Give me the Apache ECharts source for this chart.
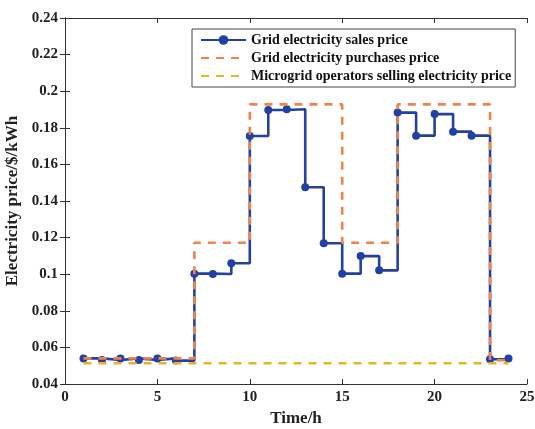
<!DOCTYPE html>
<html>
<head>
<meta charset="utf-8">
<script src="https://cdn.jsdelivr.net/npm/echarts@6/dist/echarts.min.js"></script>
<style>
html,body{margin:0;padding:0;background:#fff;}
#chart{width:535px;height:429px;}
</style>
</head>
<body>
<div id="chart"></div>
<script>
const hours = [1,2,3,4,5,6,7,8,9,10,11,12,13,14,15,16,17,18,19,20,21,22,23,24];
const salesPrice = [0.054,0.0531,0.054,0.0531,0.054,0.0528,0.1003,0.1001,0.106,0.1755,0.1897,0.1901,0.1475,0.1169,0.1003,0.1099,0.1021,0.1883,0.1757,0.1875,0.1779,0.1757,0.0535,0.054];
const purchasePrice = [0.054,0.054,0.054,0.054,0.054,0.054,0.1172,0.1172,0.1172,0.1928,0.1928,0.1928,0.1928,0.1928,0.1172,0.1172,0.1172,0.1928,0.1928,0.1928,0.1928,0.1928,0.053,0.053];
const microgridPrice = [0.0513,0.0513,0.0513,0.0513,0.0513,0.0513,0.0513,0.0513,0.0513,0.0513,0.0513,0.0513,0.0513,0.0513,0.0513,0.0513,0.0513,0.0513,0.0513,0.0513,0.0513,0.0513,0.0513,0.0513];
const seriesNames = ['Grid electricity sales price','Grid electricity purchases price','Microgrid operators selling electricity price'];
const xTickLabels = ['0','5','10','15','20','25'];
const yTickLabels = ['0.04','0.06','0.08','0.1','0.12','0.14','0.16','0.18','0.2','0.22','0.24'];

const pair = (ys) => hours.map((h, i) => [h, ys[i]]);
const font = 'Liberation Serif, Times New Roman, serif';

const chart = echarts.init(document.getElementById('chart'), null, {renderer: 'canvas'});
const axisLineStyle = {show: true, lineStyle: {color: '#333', width: 1}};
const tick = {show: true, inside: true, length: 5, lineStyle: {color: '#333'}};
chart.setOption({
  animation: false,
  backgroundColor: '#fff',
  grid: {left: 65, right: 8, top: 18, bottom: 45, containLabel: false, outerBoundsMode: 'none'},
  xAxis: [{
    type: 'value', min: 0, max: 25, interval: 5, position: 'bottom',
    axisLine: axisLineStyle, axisTick: tick, splitLine: {show: false},
    axisLabel: {color: '#222', fontFamily: font, fontWeight: 'bold', fontSize: 15, margin: 6,
      formatter: (v) => xTickLabels[Math.round(v / 5)] ?? ''},
    name: 'Time/h', nameLocation: 'middle', nameGap: 22,
    nameTextStyle: {color: '#222', fontFamily: font, fontWeight: 'bold', fontSize: 17}
  }, {
    type: 'value', min: 0, max: 25, interval: 5, position: 'top',
    axisLine: axisLineStyle, axisTick: tick, splitLine: {show: false}, axisLabel: {show: false}
  }],
  yAxis: [{
    type: 'value', min: 0.04, max: 0.24, interval: 0.02, position: 'left',
    axisLine: axisLineStyle, axisTick: tick, splitLine: {show: false},
    axisLabel: {color: '#222', fontFamily: font, fontWeight: 'bold', fontSize: 15, margin: 7,
      formatter: (v) => yTickLabels[Math.round((v - 0.04) / 0.02)] ?? ''},
    name: 'Electricity price/$/kWh', nameLocation: 'middle', nameGap: 42,
    nameTextStyle: {color: '#222', fontFamily: font, fontWeight: 'bold', fontSize: 17}
  }, {
    type: 'value', min: 0.04, max: 0.24, interval: 0.02, position: 'right',
    axisLine: axisLineStyle, axisTick: tick, splitLine: {show: false}, axisLabel: {show: false}
  }],
  legend: {
    orient: 'vertical', left: 192, top: 29,
    backgroundColor: '#fff', borderColor: '#444', borderWidth: 1,
    padding: [4, 4, 4, 8], itemGap: 4, itemWidth: 45, itemHeight: 12,
    textStyle: {color: '#111', fontFamily: font, fontWeight: 'bold', fontSize: 14},
    data: [
      {name: seriesNames[0]},
      {name: seriesNames[1], itemStyle: {opacity: 0}},
      {name: seriesNames[2], itemStyle: {opacity: 0}}
    ]
  },
  series: [{
    name: seriesNames[0], type: 'line', step: 'end',
    data: pair(salesPrice),
    symbol: 'circle', symbolSize: 8,
    lineStyle: {color: '#2341a3', width: 2.6},
    itemStyle: {color: '#2341a3'},
    z: 2
  }, {
    name: seriesNames[1], type: 'line', step: 'end',
    data: pair(purchasePrice),
    symbol: 'none',
    lineStyle: {color: '#f0824a', width: 2.6, type: [8, 7]},
    itemStyle: {color: '#f0824a'},
    z: 3
  }, {
    name: seriesNames[2], type: 'line', step: 'end',
    data: pair(microgridPrice),
    symbol: 'none',
    lineStyle: {color: '#ebb224', width: 2.6, type: [8, 7]},
    itemStyle: {color: '#ebb224'},
    z: 4
  }]
});
</script>
</body>
</html>
